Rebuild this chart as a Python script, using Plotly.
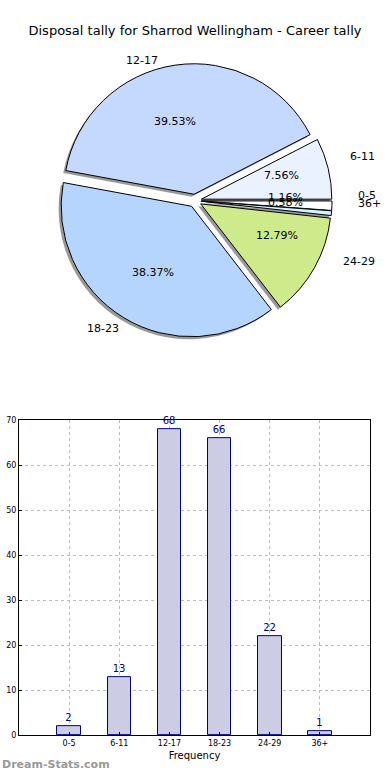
import math
import plotly.graph_objects as go

# ---- data ----
categories = ["0-5", "6-11", "12-17", "18-23", "24-29", "36+"]
counts = [2, 13, 68, 66, 22, 1]
pie_colors = ["#ffffff", "#eaf1ff", "#c5d9ff", "#b5d5ff", "#ceea8a", "#d2f2ff"]
title_text = "Disposal tally for Sharrod Wellingham - Career tally"
bar_ticks_y = [0, 10, 20, 30, 40, 50, 60, 70]

W, H = 390, 780
CX, CY = 195, 199          # pie centre in px
R = 132                    # pie radius in px
PULL = 0.05
RX, RY = 140, 126          # label ellipse (reference proportions)

fig = go.Figure()

# pie domain
dom_h = 2 * R * (1 + PULL)
y0 = 1 - (CY + dom_h / 2) / H
y1 = 1 - (CY - dom_h / 2) / H
dx_px, dy_px = 2.5, 2.5

# shadow pie
fig.add_trace(go.Pie(
    labels=categories, values=counts, sort=False, direction="counterclockwise",
    rotation=90, pull=[PULL] * len(counts),
    marker=dict(colors=["rgba(70,70,70,0.55)"] * len(counts), line=dict(width=0)),
    textinfo="none", hoverinfo="skip", showlegend=False,
    domain=dict(x=[0, 1 - 2 * dx_px / W], y=[y0 - dy_px / H, y1 - dy_px / H]),
))
# main pie
fig.add_trace(go.Pie(
    labels=categories, values=counts, sort=False, direction="counterclockwise",
    rotation=90, pull=[PULL] * len(counts),
    marker=dict(colors=pie_colors, line=dict(color="#000000", width=1)),
    textinfo="none", showlegend=False,
    domain=dict(x=[0, 1], y=[y0, y1]),
))

# labels and percentages placed by slice mid-angle
total = sum(counts)
annotations = []
cum = 0
for cat, v in zip(categories, counts):
    a0 = cum / total * 360
    cum += v
    a1 = cum / total * 360
    mid = math.radians((a0 + a1) / 2)
    c, s = math.cos(mid), math.sin(mid)
    lx = CX + (1.1 + PULL) * RX * c
    ly = CY - (1.1 + PULL) * RY * s
    annotations.append(dict(
        x=lx / W, y=1 - ly / H, xref="paper", yref="paper", text=cat,
        showarrow=False, xanchor="left" if c > 0 else "right", yanchor="middle",
        font=dict(family="DejaVu Sans", size=11, color="#000000")))
    px = CX + (0.6 + PULL) * RX * c
    py = CY - (0.6 + PULL) * RY * s
    annotations.append(dict(
        x=px / W, y=1 - py / H, xref="paper", yref="paper",
        text=f"{v / total * 100:.2f}%",
        showarrow=False, xanchor="center", yanchor="middle",
        font=dict(family="DejaVu Sans", size=11, color="#000000")))

# bar chart
fig.add_trace(go.Bar(
    x=categories, y=counts, width=0.47,
    marker=dict(color="#ccccE4", line=dict(color="#000080", width=1)),
    text=[str(v) for v in counts], textposition="outside", cliponaxis=False,
    textfont=dict(family="DejaVu Sans", size=10, color="#000080"),
    xaxis="x", yaxis="y", showlegend=False,
))

annotations.append(dict(
    x=0, y=0, xref="paper", yref="paper", text="<b>Dream-Stats.com</b>",
    showarrow=False, xanchor="left", yanchor="bottom", yshift=2,
    font=dict(family="DejaVu Sans", size=11, color="#999999")))

fig.update_layout(
    width=W, height=H, margin=dict(l=0, r=0, t=0, b=0),
    paper_bgcolor="white", plot_bgcolor="white",
    title=dict(text=title_text, x=0.5, xanchor="center", y=1 - 30 / H, yanchor="middle",
               font=dict(family="DejaVu Sans", size=13, color="#000000")),
    annotations=annotations,
    bargap=0,
    xaxis=dict(domain=[19 / W, 370 / W], anchor="y", range=[-1, 6],
               showline=True, mirror=True, linecolor="black", linewidth=1,
               showgrid=True, gridcolor="#bbbbbb", griddash="dot", gridwidth=1,
               ticks="inside", ticklen=3, tickcolor="black",
               tickfont=dict(family="DejaVu Sans", size=8, color="black"),
               title=dict(text="Frequency", standoff=4,
                          font=dict(family="DejaVu Sans", size=10, color="black")),
               zeroline=False),
    yaxis=dict(domain=[1 - 740 / H, 1 - 421 / H], anchor="x", range=[0, 70],
               tickvals=bar_ticks_y,
               showline=True, mirror=True, linecolor="black", linewidth=1,
               showgrid=True, gridcolor="#bbbbbb", griddash="dot", gridwidth=1,
               ticks="inside", ticklen=3, tickcolor="black",
               tickfont=dict(family="DejaVu Sans", size=8, color="black"),
               zeroline=False),
)

fig.write_html(
    "out.html",
    config={"displayModeBar": False},
    post_script=("document.body.style.margin='0';"
                 "document.body.style.overflow='hidden';"
                 "document.documentElement.style.overflow='hidden';"),
)
